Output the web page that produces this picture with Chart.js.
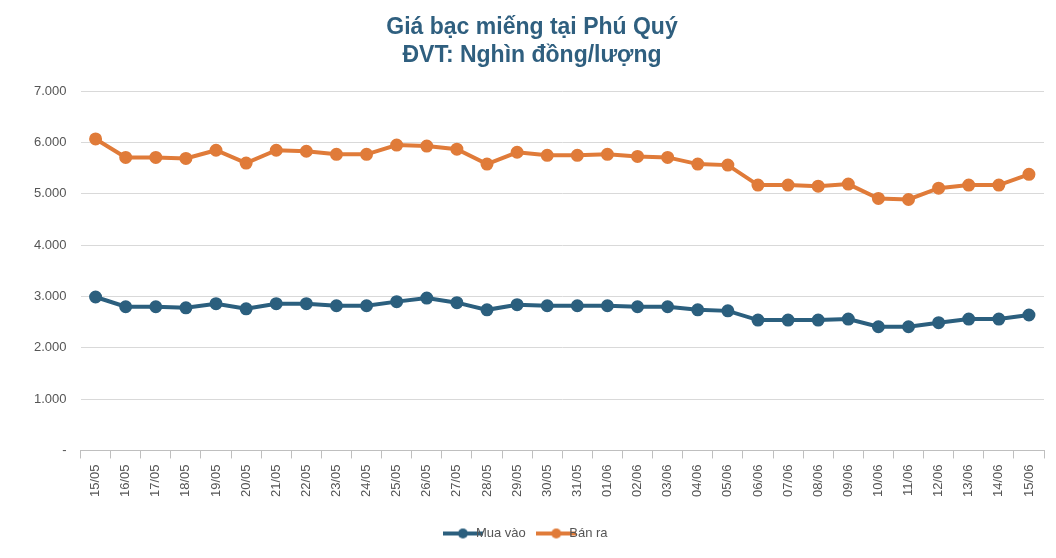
<!DOCTYPE html>
<html><head><meta charset="utf-8">
<script src="https://cdn.jsdelivr.net/npm/chart.js@4"></script>
<style>html,body{margin:0;padding:0;background:#fff}#w{width:1056px;height:558px}</style>
</head><body><div id="w"><canvas id="c"></canvas></div>
<script>
const categories=["15/05","16/05","17/05","18/05","19/05","20/05","21/05","22/05","23/05","24/05","25/05","26/05","27/05","28/05","29/05","30/05","31/05","01/06","02/06","03/06","04/06","05/06","06/06","07/06","08/06","09/06","10/06","11/06","12/06","13/06","14/06","15/06"];
const muaVao=[2990,2800,2800,2780,2860,2760,2860,2860,2820,2820,2900,2970,2880,2740,2840,2820,2820,2820,2800,2800,2740,2720,2540,2540,2540,2560,2410,2410,2490,2560,2560,2640];
const banRa=[6070,5710,5710,5690,5850,5600,5850,5830,5770,5770,5950,5930,5870,5580,5810,5750,5750,5770,5730,5710,5580,5560,5170,5170,5150,5190,4910,4890,5110,5170,5170,5380];
const font="'Liberation Sans',sans-serif";
Chart.defaults.font.family=font;
function legendIcon(col){const c=document.createElement('canvas');c.width=40;c.height=12;const g=c.getContext('2d');g.strokeStyle=col;g.lineWidth=4;g.beginPath();g.moveTo(0,6);g.lineTo(40,6);g.stroke();g.fillStyle=col;g.beginPath();g.arc(20,6,5,0,Math.PI*2);g.fill();return c;}
const icons=[legendIcon('#2B5F7E'),legendIcon('#E07B39')];
new Chart(document.getElementById('c'),{type:'line',
data:{labels:categories,datasets:[
{label:'Mua vào',data:muaVao,borderColor:'#2B5F7E',backgroundColor:'#2B5F7E',borderWidth:4,pointRadius:4.5,pointHoverRadius:4.5,tension:0},
{label:'Bán ra',data:banRa,borderColor:'#E07B39',backgroundColor:'#E07B39',borderWidth:4,pointRadius:4.5,pointHoverRadius:4.5,tension:0}]},
options:{responsive:true,maintainAspectRatio:false,animation:false,
layout:{padding:{left:20,right:12,top:14,bottom:8}},
plugins:{title:{display:true,text:['Giá bạc miếng tại Phú Quý','ĐVT: Nghìn đồng/lượng'],color:'#2F5F7F',font:{size:23,weight:'bold',family:font},lineHeight:1.5,padding:{bottom:22}},
legend:{position:'bottom',labels:{usePointStyle:true,color:'#555',font:{size:13},padding:24,generateLabels(ch){return Chart.defaults.plugins.legend.labels.generateLabels(ch).map((l,i)=>({...l,pointStyle:icons[i]}));}}}},
scales:{y:{min:0,max:7000,ticks:{stepSize:1000,color:'#555',font:{size:13},padding:14,callback:v=>v===0?'-':v.toLocaleString('de-DE')},grid:{color:'#d9d9d9',drawTicks:false},border:{display:false}},
x:{offset:true,grid:{offset:true,drawOnChartArea:false,color:'#bfbfbf',tickLength:8},border:{color:'#bfbfbf'},ticks:{color:'#555',font:{size:13},maxRotation:90,minRotation:90,autoSkip:false,padding:6}}}}});
</script></body></html>
